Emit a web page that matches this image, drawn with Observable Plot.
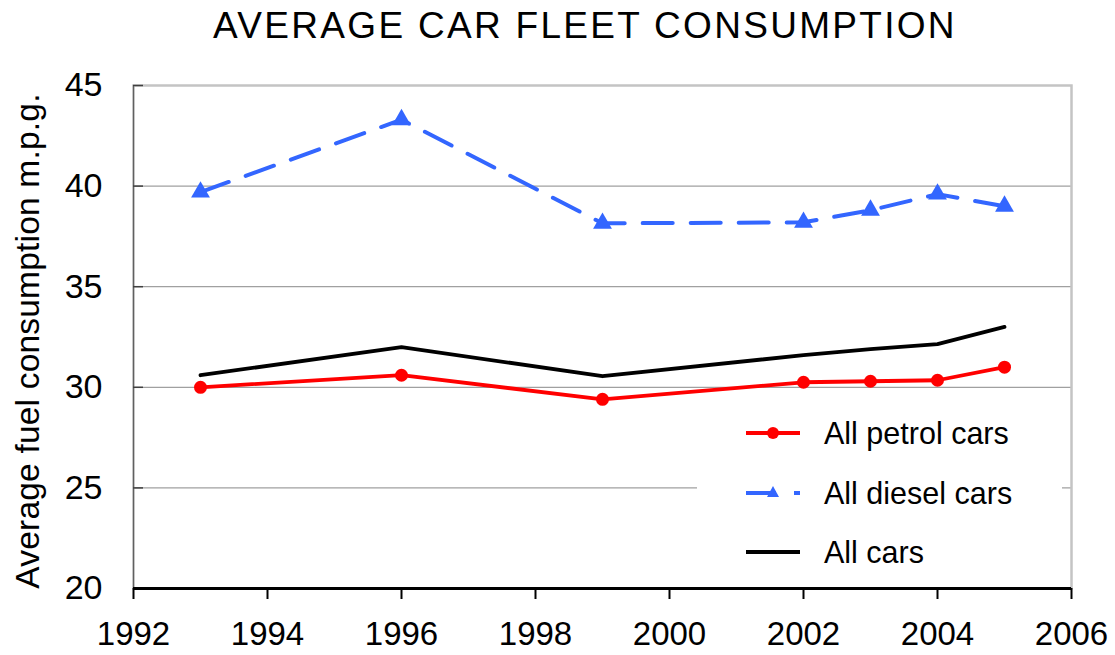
<!DOCTYPE html>
<html>
<head>
<meta charset="utf-8">
<script src="https://cdn.jsdelivr.net/npm/d3@7"></script>
<script src="https://cdn.jsdelivr.net/npm/@observablehq/plot@0.6"></script>
<style>
  html, body { margin: 0; padding: 0; background: #fff; }
  #wrap { position: relative; width: 1115px; height: 655px; font-family: "Liberation Sans", Arial, sans-serif; color: #000; }
  #title { position: absolute; top: 5px; left: 585px; transform: translateX(-50%); font-size: 37px; letter-spacing: 2.3px; white-space: nowrap; line-height: 1.15; }
  #ytitle { position: absolute; left: 28px; top: 341px; transform: translate(-50%, -50%) rotate(-90deg); font-size: 33.5px; letter-spacing: 0.2px; white-space: nowrap; line-height: 1.15; }
  #plot { position: absolute; left: 0; top: 55px; }
  #legend { position: absolute; left: 697px; top: 405px; width: 365px; height: 172px; background: #fff; }
  .row { position: absolute; left: 0; height: 40px; display: flex; align-items: center; }
  .row svg { margin-left: 49px; }
  .row span { margin-left: 22px; font-size: 30.5px; }
</style>
</head>
<body>
<div id="wrap">
  <div id="title">AVERAGE CAR FLEET CONSUMPTION</div>
  <div id="plot"></div>
  <div id="ytitle">Average fuel consumption m.p.g.</div>
  <div id="legend"></div>
</div>
<script>
const years = [1993, 1996, 1999, 2002, 2003, 2004, 2005];
const petrol = [30.0, 30.6, 29.4, 30.25, 30.3, 30.35, 31.0];
const diesel = [39.7, 43.3, 38.15, 38.2, 38.8, 39.6, 39.0];
const allCars = [30.6, 32.0, 30.55, 31.6, 31.9, 32.15, 33.0];
const seriesNames = ["All petrol cars", "All diesel cars", "All cars"];
const xTicks = [1992, 1994, 1996, 1998, 2000, 2002, 2004, 2006];
const yTicks = [20, 25, 30, 35, 40, 45];

const colors = { petrol: "#ff0000", diesel: "#3366ff", all: "#000000" };

const rows = (vals) => years.map((y, i) => ({ year: y, value: vals[i] }));
const petrolData = rows(petrol);
const dieselData = rows(diesel);
const allData = rows(allCars);

const plot = Plot.plot({
  width: 1115,
  height: 600,
  marginLeft: 133,
  marginRight: 44,
  marginTop: 30,
  marginBottom: 67,
  style: { fontFamily: "'Liberation Sans', Arial, sans-serif", background: "#fff", overflow: "visible" },
  x: { domain: [1992, 2006] },
  y: { domain: [20, 45] },
  marks: [
    Plot.ruleY(yTicks.filter(d => d > 20 && d < 45), { stroke: "#a0a0a0", strokeWidth: 1.2 }),
    Plot.frame({ stroke: "#c4c4c4", strokeWidth: 2.5 }),
    Plot.ruleX([1992], { stroke: "#606060", strokeWidth: 1.2 }),
    Plot.tickY(yTicks, { y: d => d, stroke: "#404040", strokeWidth: 1.5, insetRight: 928 }),
    Plot.axisY({ ticks: yTicks, tickSize: 0, tickPadding: 31, fontSize: 34, label: null, tickFormat: "d" }),
    Plot.axisX({ ticks: xTicks, tickSize: 11, tickPadding: 22, fontSize: 33, label: null, tickFormat: "d", stroke: "#000", strokeWidth: 2 }),
    Plot.ruleY([20], { stroke: "#000", strokeWidth: 3 }),
    Plot.line(allData, { x: "year", y: "value", stroke: colors.all, strokeWidth: 3.8 }),
    Plot.line(petrolData, { x: "year", y: "value", stroke: colors.petrol, strokeWidth: 3.8 }),
    Plot.dot(petrolData, { x: "year", y: "value", fill: colors.petrol, r: 6.5 }),
    Plot.line(dieselData, { x: "year", y: "value", stroke: colors.diesel, strokeWidth: 4, strokeDasharray: "30,18" }),
    Plot.dot(dieselData, { x: "year", y: "value", fill: colors.diesel, symbol: "triangle", r: 7 })
  ]
});
document.getElementById("plot").appendChild(plot);

// Legend
const legend = document.getElementById("legend");
const swatches = [
  `<svg width="56" height="20"><line x1="0" y1="10" x2="54" y2="10" stroke="${colors.petrol}" stroke-width="4"/><circle cx="27" cy="10" r="6" fill="${colors.petrol}"/></svg>`,
  `<svg width="56" height="20"><line x1="0" y1="10" x2="54" y2="10" stroke="${colors.diesel}" stroke-width="4" stroke-dasharray="30,18"/><path d="M27,3 L33,14 L21,14 Z" fill="${colors.diesel}"/></svg>`,
  `<svg width="56" height="20"><line x1="0" y1="10" x2="54" y2="10" stroke="${colors.all}" stroke-width="4"/></svg>`
];
const rowTops = [8, 68, 127];
seriesNames.forEach((name, i) => {
  const div = document.createElement("div");
  div.className = "row";
  div.style.top = rowTops[i] + "px";
  div.innerHTML = swatches[i] + `<span>${name}</span>`;
  legend.appendChild(div);
});
</script>
</body>
</html>
